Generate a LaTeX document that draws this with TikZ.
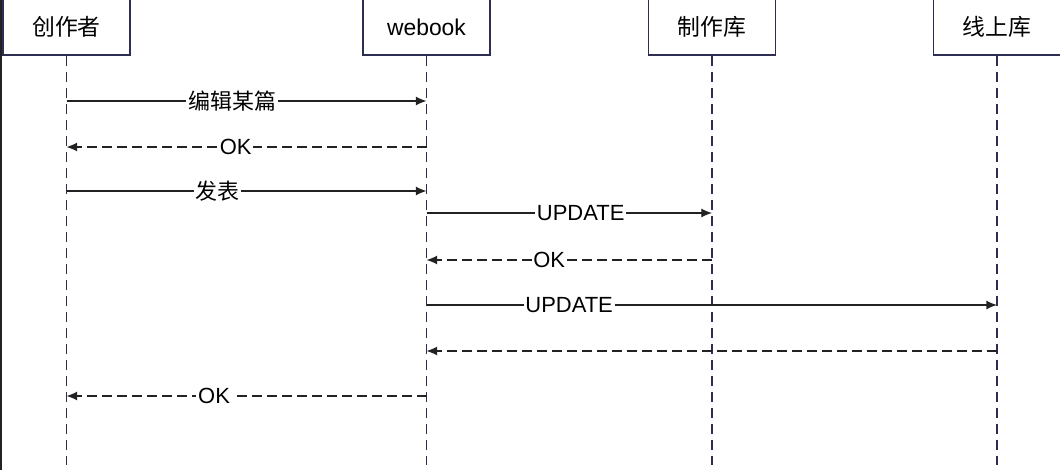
\documentclass[tikz,border=0pt]{standalone}
\usepackage{fontspec}
\setmainfont{Liberation Sans}
\newfontfamily\cjk{Noto Sans CJK SC}
\usetikzlibrary{arrows.meta,positioning,calc}
\definecolor{boxline}{HTML}{2E2E52}
\definecolor{msgline}{HTML}{222222}
\tikzset{
    actorbox/.style={draw=boxline, line width=0.9pt, fill=white, inner sep=0pt,
        minimum width=2.54cm, minimum height=1.12cm, font=\fontsize{13}{15}\selectfont},
    lifeline/.style={draw=boxline, line width=0.7pt, dash pattern=on 0.2cm off 0.12cm},
    callarrow/.style={-{Latex[length=6pt,width=5pt]}, draw=msgline, line width=0.6pt},
    replyarrow/.style={callarrow, dash pattern=on 0.2cm off 0.1cm},
    msglabel/.style={fill=white, inner sep=1pt, font=\fontsize{12.5}{14}\selectfont}
}

\begin{document}
\begin{tikzpicture}[x=0.02cm, y=-0.02cm]
\clip (0,0) rectangle (1060,470);
\useasboundingbox (0,0) rectangle (1060,470);
\fill[white] (0,0) rectangle (1060,470);
\draw[line width=1pt, msgline] (1,0) -- (1,470);

% participants
\node[actorbox] (author) at (66.5,27) {\cjk 创作者};
\node[actorbox] (webook) at (426.5,27) {webook};
\node[actorbox] (draftdb) at (712,27) {\cjk 制作库};
\node[actorbox] (livedb) at (997,27) {\cjk 线上库};

% lifelines
\coordinate (authorend) at (author |- 0,465);
\coordinate (webookend) at (webook |- 0,465);
\coordinate (draftend) at (draftdb |- 0,465);
\coordinate (liveend) at (livedb |- 0,465);
\draw[lifeline] (author.south) -- (authorend);
\draw[lifeline] (webook.south) -- (webookend);
\draw[lifeline] (draftdb.south) -- (draftend);
\draw[lifeline] (livedb.south) -- (liveend);

% messages
\draw[callarrow] (author |- 0,101) -- node[msglabel, pos=0.46] {\cjk 编辑某篇} (webook |- 0,101);
\draw[replyarrow] (webook |- 0,147) -- node[msglabel, pos=0.53] {OK} (author |- 0,147);
\draw[callarrow] (author |- 0,191) -- node[msglabel, pos=0.42] {\cjk 发表} (webook |- 0,191);
\draw[callarrow] (webook |- 0,213) -- node[msglabel, pos=0.54] {UPDATE} (draftdb |- 0,213);
\draw[replyarrow] (draftdb |- 0,260) -- node[msglabel, pos=0.57] {OK} (webook |- 0,260);
\draw[callarrow] (webook |- 0,305) -- node[msglabel, pos=0.25] {UPDATE} (livedb |- 0,305);
\draw[replyarrow] (livedb |- 0,351) -- (webook |- 0,351);
\draw[replyarrow] (webook |- 0,396) -- node[msglabel, pos=0.59] {OK} (author |- 0,396);
\end{tikzpicture}
\end{document}
